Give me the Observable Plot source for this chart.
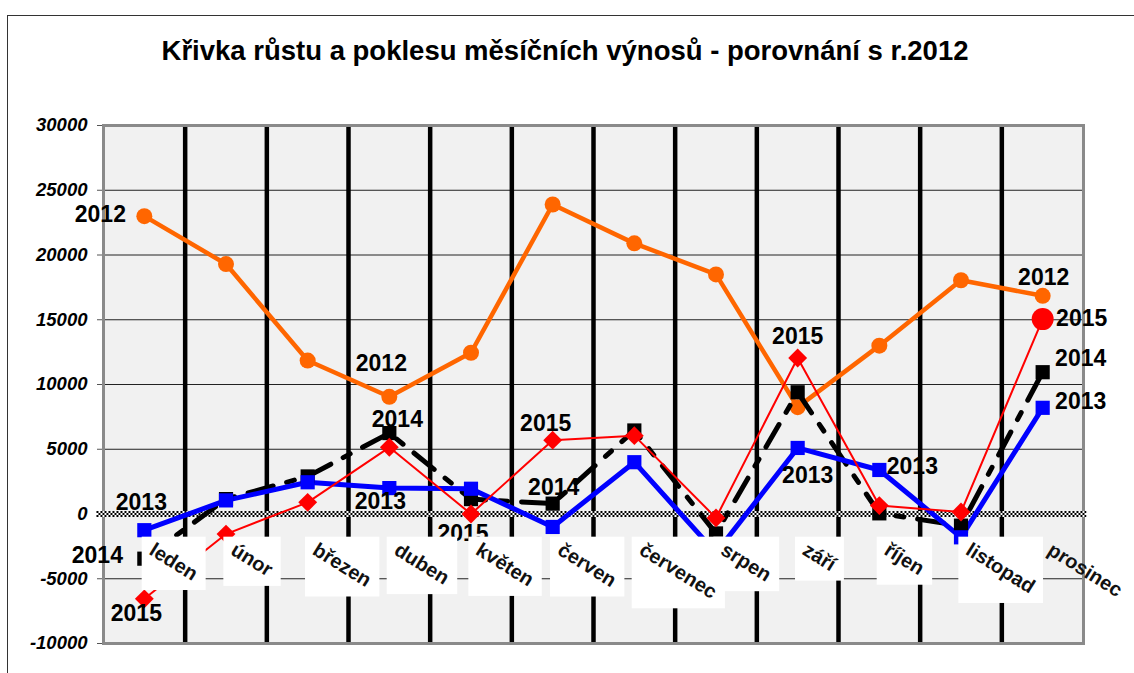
<!DOCTYPE html>
<html>
<head>
<meta charset="utf-8">
<script src="https://cdn.jsdelivr.net/npm/d3@7"></script>
<script src="https://cdn.jsdelivr.net/npm/@observablehq/plot@0.6"></script>
<style>
  html, body { margin: 0; padding: 0; background: #fff; }
  body { width: 1134px; height: 673px; overflow: hidden; position: relative; font-family: "Liberation Sans", Arial, sans-serif; }
  #outer { position: absolute; left: 7px; top: 15px; width: 1200px; height: 720px; border: 1.5px solid #333; box-sizing: border-box; }
  #title { position: absolute; left: 0; top: 35px; width: 1130px; text-align: center; font-weight: bold; font-size: 27.5px; color: #000; }
  #chart { position: absolute; left: 0; top: 100px; }
  #chart svg g[aria-label^="y-axis"] text { font-weight: bold; font-style: italic; font-size: 18.5px; fill: #000; }
  #chart svg g[aria-label^="y-axis"] line, #chart svg g[aria-label^="y-axis"] path { stroke: #555; }
</style>
</head>
<body>
<div id="outer"></div>
<div id="title">Křivka růstu a poklesu měsíčních výnosů - porovnání s r.2012</div>
<div id="chart"></div>
<script>
// ---- data ----
const months = ["leden","únor","březen","duben","květen","červen","červenec","srpen","září","říjen","listopad","prosinec"];
const series = ["2012","2013","2014","2015"];
const v2012 = [23000, 19300, 11850, 9050, 12450, 23900, 20900, 18500, 8250, 13000, 18050, 16850];
const v2013 = [-1250, 1050, 2450, 2000, 1950, -1000, 4000, -3000, 5100, 3400, -1800, 8200];
const v2014 = [-3450, 1150, 2900, 6250, 1150, 800, 6450, -1500, 9400, 50, -900, 10950];
const v2015 = [-6550, -1550, 900, 5150, 0, 5700, 6050, -300, 12050, 650, 150, 15050];
const yTicks = [-10000, -5000, 0, 5000, 10000, 15000, 20000, 25000, 30000];
// data labels: [series, month index]
const dataLabels = [
  ["2012", 0], ["2012", 3], ["2012", 11],
  ["2013", 0], ["2013", 3], ["2013", 8], ["2013", 9], ["2013", 11],
  ["2014", 0], ["2014", 3], ["2014", 5], ["2014", 11],
  ["2015", 0], ["2015", 4], ["2015", 5], ["2015", 8], ["2015", 11]
];
// ---- layout (pixel offsets of data labels) ----
const labelOffsets = [
  [-44, -2], [-8, -33], [1, -18],
  [-3, -28], [-9, 14], [10, 28], [33, -3], [38, -6],
  [-47, -3], [8, -13], [1, -16], [38, -14],
  [-8, 15], [-8, 20], [-7, -17], [0, -21], [39, 0]
];

const values = {"2012": v2012, "2013": v2013, "2014": v2014, "2015": v2015};
const rows = s => values[s].map((v, i) => ({month: months[i], i, x: i + 0.5, value: v, series: s}));
const r2012 = rows("2012"), r2013 = rows("2013"), r2014 = rows("2014"), r2015 = rows("2015");

const FONT = '"Liberation Sans", Arial, sans-serif';
const catFont = 20, catRotate = 32, catDx = 7, catDy = 34;

function labelBoxes(index, scales, vals, dims) {
  const ns = "http://www.w3.org/2000/svg";
  const g = document.createElementNS(ns, "g");
  const ctx = document.createElement("canvas").getContext("2d");
  ctx.font = `bold ${catFont}px ${FONT}`;
  const t = catRotate * Math.PI / 180, c = Math.cos(t), s = Math.sin(t);
  months.forEach((m, i) => {
    if (i === months.length - 1) return;
    const px = scales.x(i + 0.5) + catDx, py = scales.y(0) + catDy;
    const w = ctx.measureText(m).width;
    const a = -0.52 * catFont, b = 0.58 * catFont;
    const pts = [[0, a], [w, a], [0, b], [w, b]].map(([u, v]) => [px + u * c - v * s, py + u * s + v * c]);
    const x0 = Math.min(...pts.map(p => p[0])) - 3, x1 = Math.max(...pts.map(p => p[0])) + 5;
    const y0 = Math.min(...pts.map(p => p[1])) - 2, y1 = Math.max(...pts.map(p => p[1])) + 5;
    const r = document.createElementNS(ns, "rect");
    r.setAttribute("x", x0); r.setAttribute("y", y0);
    r.setAttribute("width", x1 - x0); r.setAttribute("height", y1 - y0);
    r.setAttribute("fill", "#fff");
    g.appendChild(r);
  });
  return g;
}

const labelMarks = dataLabels.map(([s, i], k) => {
  const d = values[s];
  return Plot.text([{x: i + 0.5, y: d[i], t: s}], {
    x: "x", y: "y", text: "t", dx: labelOffsets[k][0], dy: labelOffsets[k][1],
    fontSize: 23, fontWeight: "bold", fill: "#000", textAnchor: "middle"
  });
});

const zeroRows = [-2, 0, 2];

const chart = Plot.plot({
  width: 1134,
  height: 573,
  marginTop: 25,
  marginBottom: 30,
  marginLeft: 103,
  marginRight: 51,
  style: {fontFamily: FONT, fontSize: "18px", overflow: "visible", background: "transparent", color: "#000"},
  x: {type: "linear", domain: [0, 12], axis: null},
  y: {domain: [-10000, 30000], ticks: yTicks, tickFormat: d => String(d), tickSize: 6, tickPadding: 10, label: null},
  marks: [
    Plot.frame({fill: "#f1f1f1"}),
    Plot.ruleY(yTicks.filter(d => d !== 0 && d !== -10000 && d !== 30000), {stroke: "#222", strokeWidth: 1}),
    Plot.ruleX(d3.range(1, 12), {stroke: "#000", strokeWidth: 4.5}),
    Plot.frame({stroke: "#8a8a8a", strokeWidth: 3}),
    Plot.ruleY([0], {stroke: "#fff", strokeWidth: 6, x1: -0.08, x2: 12.04}),
    ...zeroRows.map((o, k) => Plot.ruleY([0], {stroke: "#000", strokeWidth: 2, dy: o, strokeDasharray: "2,2", strokeDashoffset: k % 2 ? 2 : 0, x1: -0.08, x2: 12.04})),
    Plot.line(r2012, {x: "x", y: "value", stroke: "#FF6600", strokeWidth: 4.5}),
    Plot.dot(r2012, {x: "x", y: "value", r: 8, fill: "#FF6600"}),
    Plot.line(r2014, {x: "x", y: "value", stroke: "#000", strokeWidth: 5, strokeDasharray: "26,14,8,14"}),
    Plot.line(r2013, {x: "x", y: "value", stroke: "#0000FF", strokeWidth: 5}),
    Plot.dot(r2014, {x: "x", y: "value", symbol: "square", r: 8, fill: "#000"}),
    Plot.dot(r2013, {x: "x", y: "value", symbol: "square", r: 8, fill: "#0000FF"}),
    Plot.line(r2015, {x: "x", y: "value", stroke: "#FF0000", strokeWidth: 2}),
    Plot.dot(r2015.slice(0, 11), {x: "x", y: "value", symbol: "diamond2", r: 8.5, fill: "#FF0000"}),
    Plot.dot(r2015.slice(11), {x: "x", y: "value", r: 11, fill: "#FF0000"}),
    ...labelMarks,
    labelBoxes,
    Plot.text(months.map((m, i) => ({x: i + 0.5, m})), {
      x: "x", y: () => 0, text: "m", dx: catDx, dy: catDy, rotate: catRotate,
      textAnchor: "start", fontSize: catFont, fontWeight: "bold", fill: "#111"
    })
  ]
});
document.getElementById("chart").appendChild(chart);
</script>
</body>
</html>
